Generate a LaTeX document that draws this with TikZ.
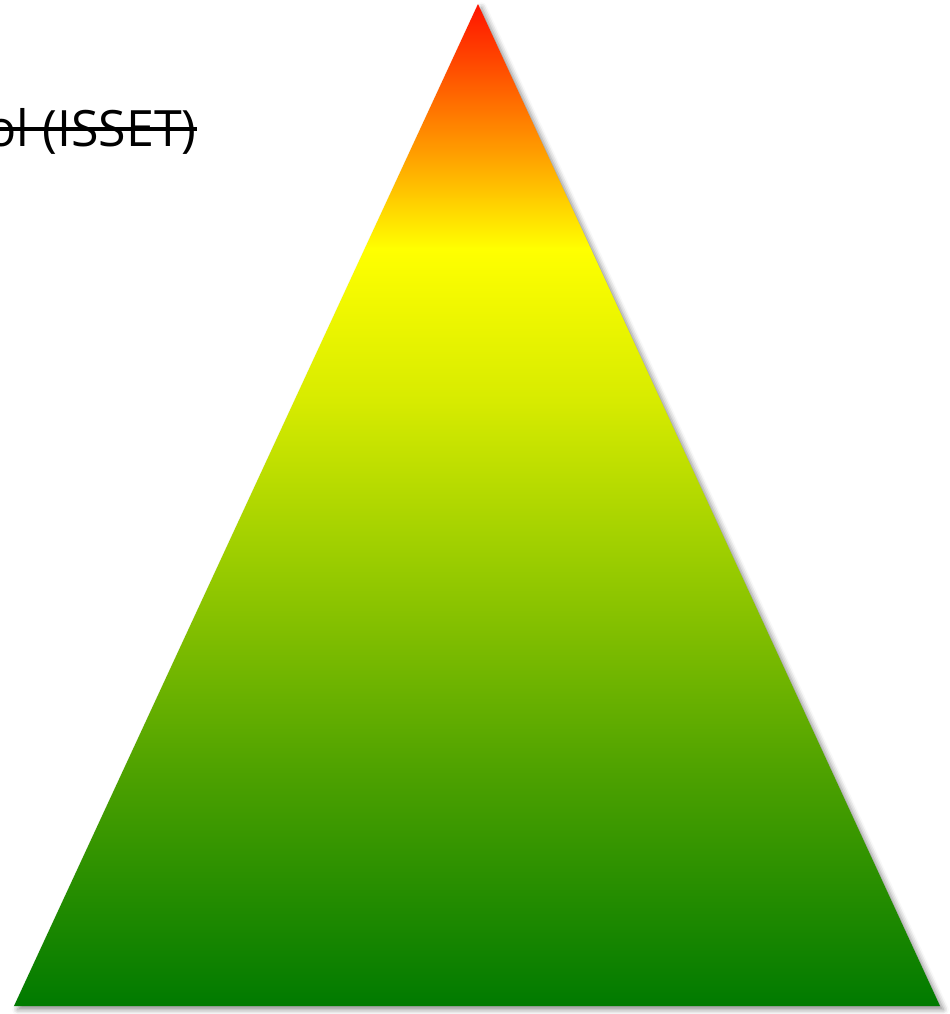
\documentclass[tikz,border=0pt]{standalone}
\usepackage{fontspec}
\setmainfont{Open Sans}
\usetikzlibrary{shadows.blur}

% vertical colour ramp of the pyramid (bottom 25bp, top 75bp)
\pgfdeclareverticalshading{pyramidramp}{100bp}{
  color(0bp)=(rgb,255:red,0;green,122;blue,0);
  color(25bp)=(rgb,255:red,0;green,122;blue,0);
  color(36.3bp)=(rgb,255:red,75;green,160;blue,0);
  color(47.3bp)=(rgb,255:red,155;green,205;blue,0);
  color(55.2bp)=(rgb,255:red,215;green,235;blue,0);
  color(62.8bp)=(rgb,255:red,255;green,255;blue,0);
  color(67.2bp)=(rgb,255:red,255;green,165;blue,0);
  color(72.2bp)=(rgb,255:red,255;green,70;blue,0);
  color(75bp)=(rgb,255:red,255;green,20;blue,0);
  color(100bp)=(rgb,255:red,255;green,20;blue,0)}

\begin{document}
\begin{tikzpicture}[
    pyramid/.style={shading=pyramidramp, draw=none,
      blur shadow={shadow xshift=2pt, shadow yshift=-2pt, shadow opacity=45, shadow blur radius=3pt}},
    label/.style={inner sep=0pt, font=\fontsize{28.5}{32}\selectfont, anchor=base east},
    strike/.style={line width=2.3pt, black}
]
\useasboundingbox (0,0) rectangle (19,-20.28);

% Pyramid
\coordinate (apex) at (9.56,-0.08);
\coordinate (left) at (0.28,-20.12);
\coordinate (right) at (18.8,-20.12);
\path[pyramid] (apex) -- (right) -- (left) -- cycle;

% Struck-out title, cut at the left edge
\node[label] (title) at (3.94,-2.92) {ol (ISSET)};
\coordinate (strikeA) at (0,-2.58);
\coordinate (strikeB) at (3.94,-2.58);
\draw[strike] (strikeA) -- (strikeB);

\end{tikzpicture}
\end{document}
